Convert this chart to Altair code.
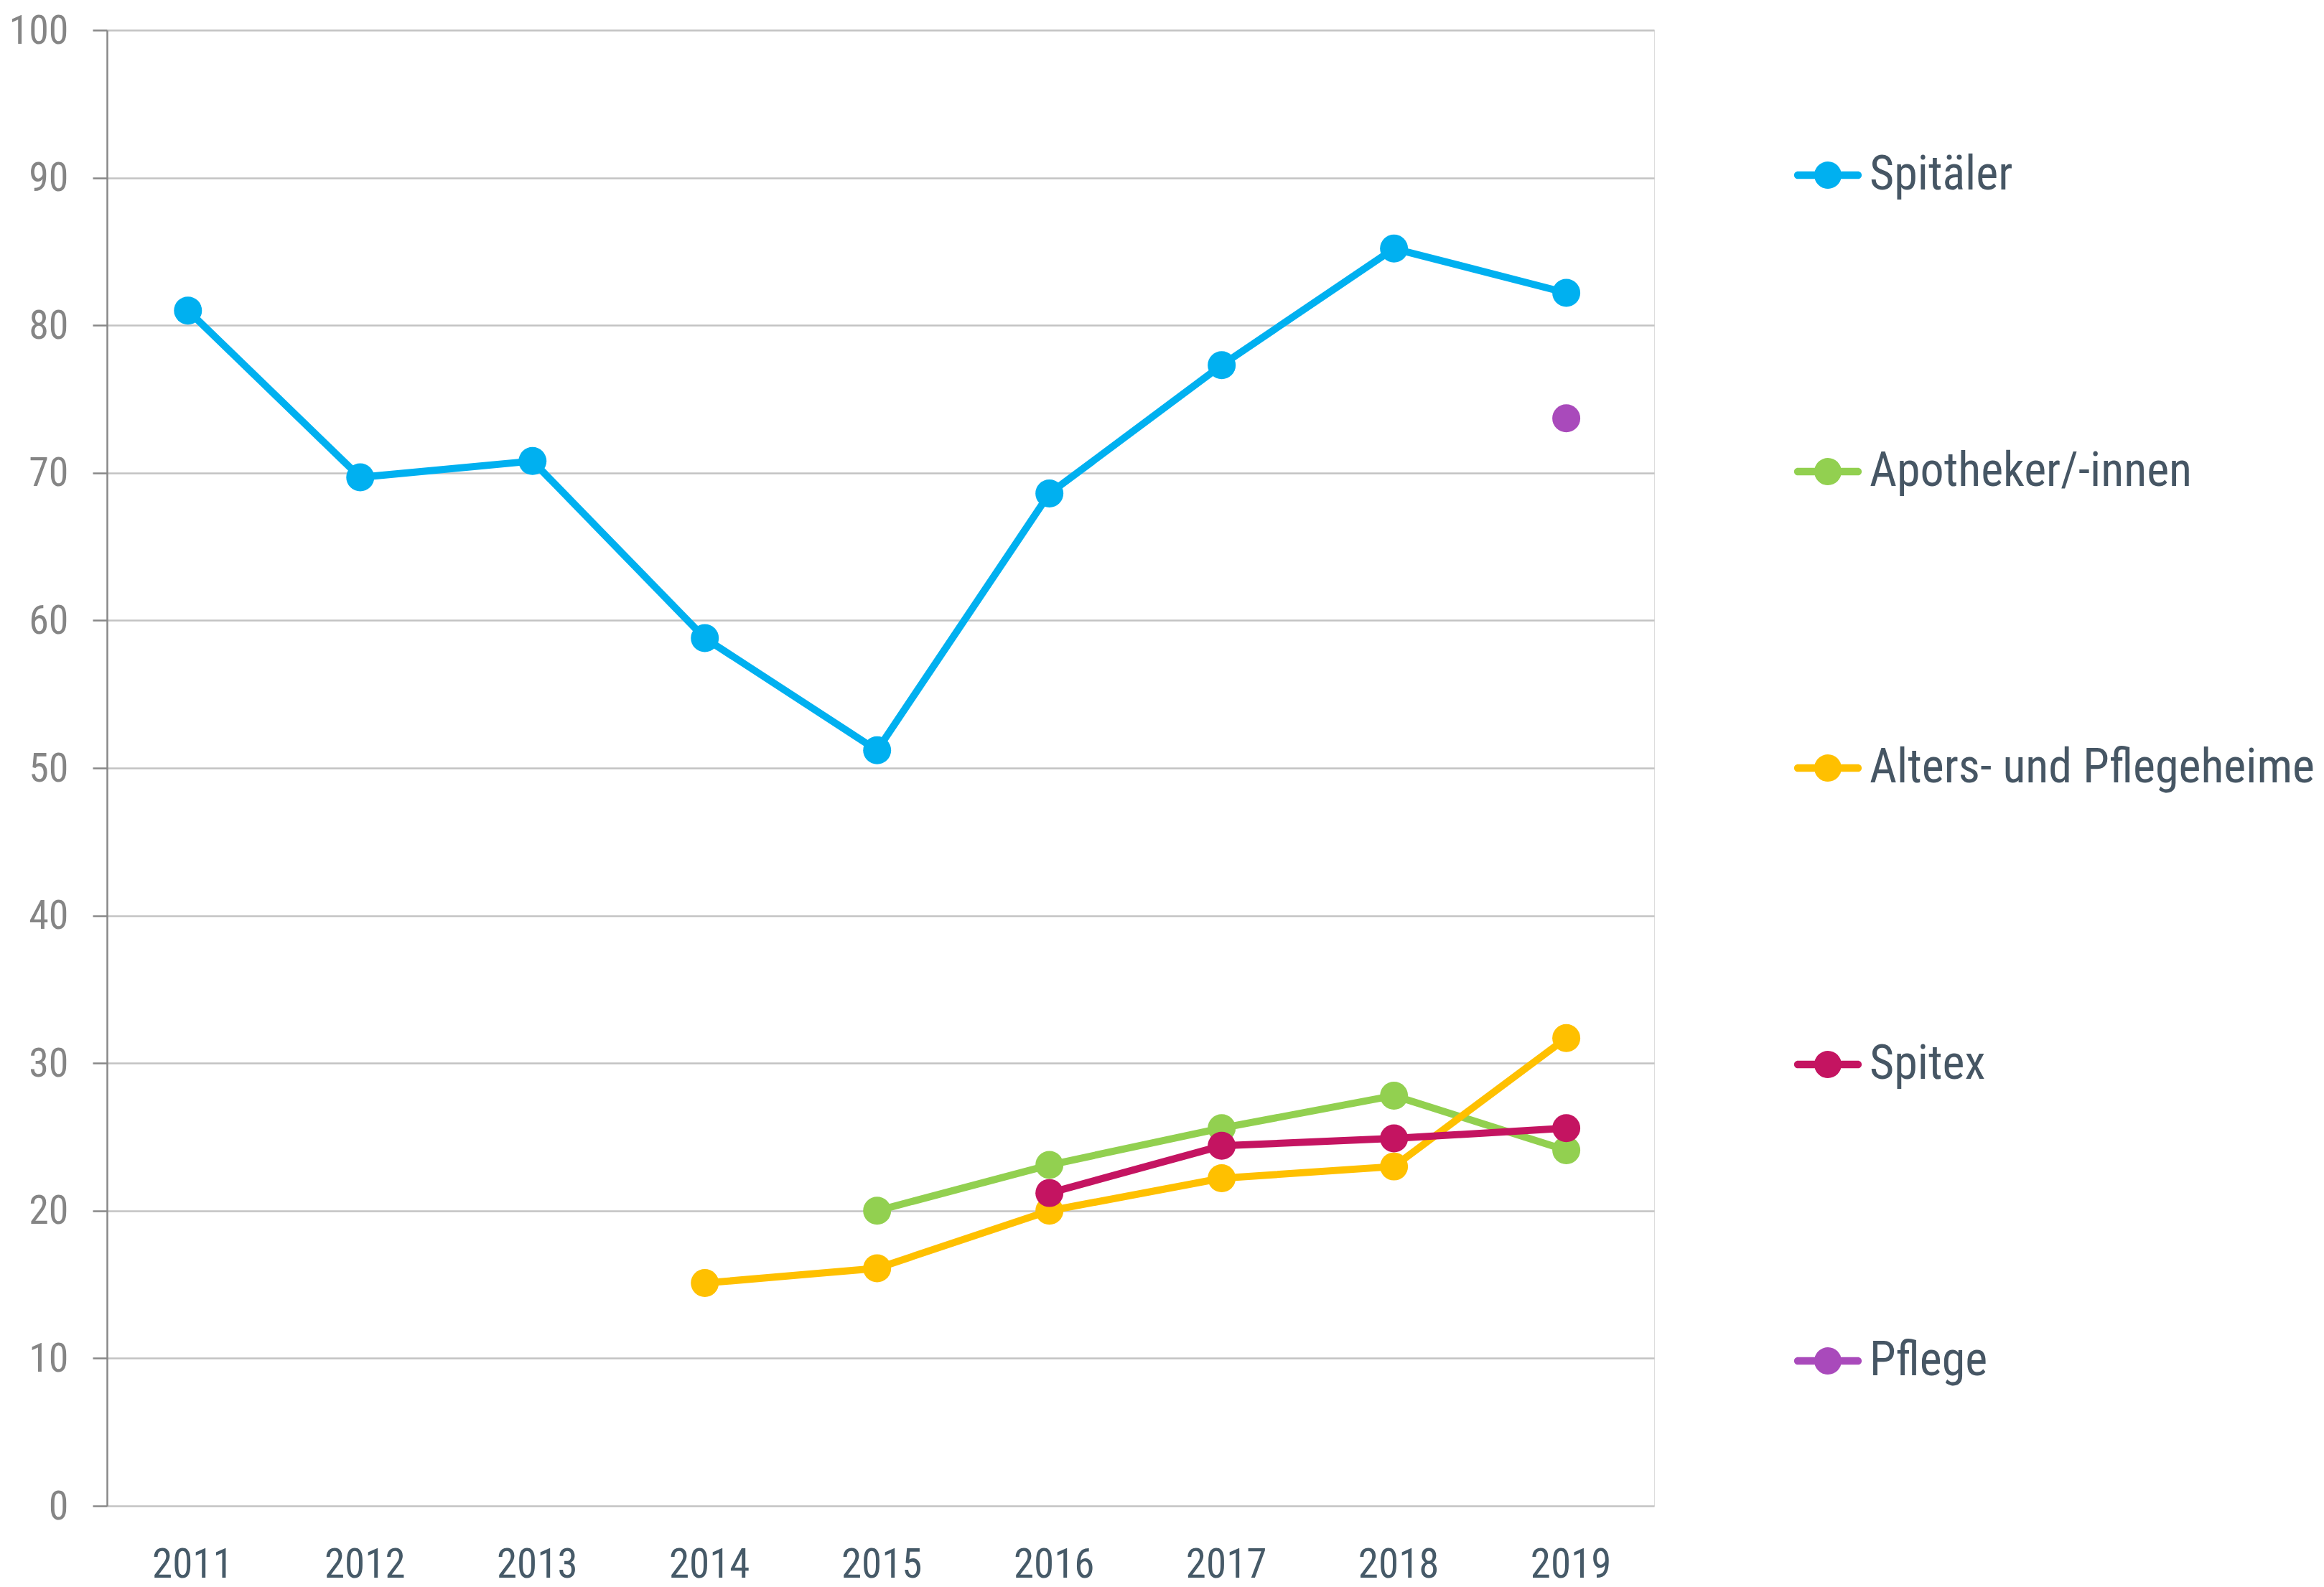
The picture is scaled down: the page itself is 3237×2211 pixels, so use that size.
import altair as alt
import pandas as pd

# ---- data ----
years = [2011, 2012, 2013, 2014, 2015, 2016, 2017, 2018, 2019]
series_names = ["Spitäler", "Apotheker/-innen", "Alters- und Pflegeheime", "Spitex", "Pflege"]
series_colors = ["#00B0F0", "#92D050", "#FFC000", "#C41461", "#A94ABB"]

spitaeler = [81.0, 69.7, 70.8, 58.8, 51.2, 68.6, 77.3, 85.2, 82.2]
apotheker = [None, None, None, None, 20.0, 23.1, 25.6, 27.8, 24.1]
alters = [None, None, None, 15.1, 16.1, 20.0, 22.2, 23.0, 31.7]
spitex = [None, None, None, None, None, 21.2, 24.4, 24.9, 25.6]
pflege = [None, None, None, None, None, None, None, None, 73.7]

y_ticks = list(range(0, 101, 10))

rows = []
for name, vals in zip(series_names, [spitaeler, apotheker, alters, spitex, pflege]):
    for yr, v in zip(years, vals):
        if v is not None:
            rows.append({"Jahr": yr, "Wert": v, "Serie": name})
df = pd.DataFrame(rows)

FONT = "Roboto Condensed, Liberation Sans Narrow, Roboto, sans-serif"

# legend symbol: rounded line with a circle in the middle (unit = symbol radius)
LEGEND_PATH = ("M-2.2,-0.28 H2.2 A0.28,0.28 0 0,1 2.2,0.28 H-2.2 "
               "A0.28,0.28 0 0,1 -2.2,-0.28 Z "
               "M-1,0 A1,1 0 1,1 1,0 A1,1 0 1,1 -1,0 Z")

x_enc = alt.X(
    "Jahr:Q",
    scale=alt.Scale(domain=[2010.53, 2019.51], nice=False, zero=False),
    axis=alt.Axis(
        values=years, format="d", title=None, grid=False, domain=False,
        ticks=False, tickSize=0, labelPadding=99, labelBaseline="alphabetic",
        labelFontSize=57, labelFont=FONT, labelColor="#465A68", labelOffset=6,
        labelFlush=False, labelOverlap=False,
    ),
)
y_enc = alt.Y(
    "Wert:Q",
    scale=alt.Scale(domain=[0, 100], nice=False),
    axis=alt.Axis(
        values=y_ticks, title=None, grid=True, gridColor="#C3C3C3", gridWidth=2.5,
        domain=True, domainColor="#888888", domainWidth=2.5,
        ticks=True, tickColor="#888888", tickWidth=2.5, tickSize=20,
        labelPadding=34, labelFontSize=56, labelFont=FONT, labelColor="#858585",
        labelBaseline="alphabetic", labelOffset=18, labelFlush=False, labelOverlap=False,
    ),
)
color_scale = alt.Scale(domain=series_names, range=series_colors)

lines = alt.Chart(df).mark_line(strokeWidth=10).encode(
    x=x_enc, y=y_enc,
    color=alt.Color("Serie:N", scale=color_scale, legend=None),
    detail="Serie:N",
)

points = alt.Chart(df).mark_circle(size=1520, opacity=1).encode(
    x=x_enc, y=y_enc,
    color=alt.Color(
        "Serie:N", scale=color_scale,
        legend=alt.Legend(
            orient="none", legendX=2364, legendY=169, title=None, padding=0,
            symbolType=LEGEND_PATH, symbolSize=1444, symbolStrokeWidth=0,
            symbolOpacity=1, labelFontSize=66, labelFont=FONT, labelColor="#465664",
            labelOffset=25, rowPadding=347, labelBaseline="middle", labelLimit=1000,
        ),
    ),
)

chart = alt.layer(lines, points).resolve_legend(color="independent").properties(
    width=2155,
    height=2056,
    autosize=alt.AutoSizeParams(type="none"),
    padding={"left": 141, "top": 34, "right": 925, "bottom": 113},
).configure_view(stroke=None).configure(background="white")

chart.save("out.html", embed_options={"renderer": "svg", "actions": False})
